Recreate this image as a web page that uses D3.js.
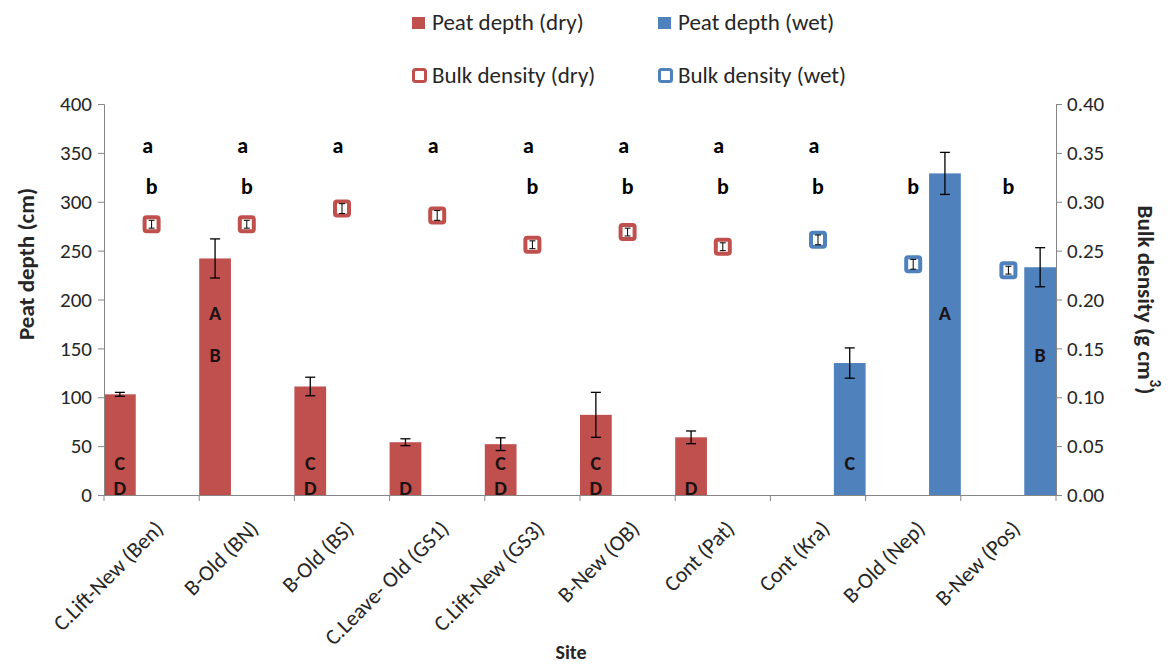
<!DOCTYPE html>
<html><head><meta charset="utf-8">
<script src="https://cdn.jsdelivr.net/npm/d3@7"></script>
<style>
body{margin:0;background:#fff;}
text{font-family:Carlito,Calibri,Lato,sans-serif;}
</style></head>
<body><svg id="chart" width="1172" height="666"></svg>
<script>
const categories = ["C.Lift-New (Ben)","B-Old (BN)","B-Old (BS)","C.Leave- Old (GS1)","C.Lift-New (GS3)","B-New (OB)","Cont (Pat)","Cont (Kra)","B-Old (Nep)","B-New (Pos)"];
const condition = ["dry","dry","dry","dry","dry","dry","dry","wet","wet","wet"];
const peatDepth = [103,242,111,54,52,82,59,135,329,233];
const peatDepthErr = [2,20,9.5,3.5,6.5,23,6.5,15.5,21.5,20];
const bulkDensity = [0.277,0.277,0.293,0.286,0.256,0.269,0.254,0.261,0.236,0.230];
const bulkDensityErr = [0.004,0.004,0.005,0.005,0.004,0.004,0.004,0.005,0.005,0.004];
const lettersA = ["a","a","a","a","a","a","a","a","",""];
const lettersB = ["b","b","","","b","b","b","b","b","b"];
const upperLetters = ["CD","AB","CD","D","CD","CD","D","C","A","B"];
const upperLevels = {A:186,B:143,C:33,D:7};
const leftTicks = [0,50,100,150,200,250,300,350,400];
const rightTicks = [0,0.05,0.10,0.15,0.20,0.25,0.30,0.35,0.40];

const colors = {dry:"#C0504D", wet:"#4F81BD"};
const textColor = "#262626";
const svg = d3.select("#chart");
const L=104,R=1056,T=104,B=495;
const x = d3.scaleBand().domain(categories).range([L,R]).padding(0);
const y = d3.scaleLinear().domain([0,400]).range([B,T]);
const y2 = d3.scaleLinear().domain([0,0.4]).range([B,T]);
const slot = x.bandwidth()/3;
const axisColor = "#868686";

const data = categories.map((c,i)=>({c,cond:condition[i],v:peatDepth[i],e:peatDepthErr[i],bd:bulkDensity[i],bde:bulkDensityErr[i],i}));
const barX = d=> x(d.c) + (d.cond==="dry"?0:2*slot);
svg.append("g").selectAll("rect").data(data).join("rect")
  .attr("x",barX).attr("width",slot)
  .attr("y",d=>y(d.v)).attr("height",d=>B-y(d.v))
  .attr("fill",d=>colors[d.cond]);

// axes
const gl = svg.append("g").attr("transform",`translate(${L},0)`)
  .call(d3.axisLeft(y).tickValues(leftTicks).tickSize(6).tickPadding(6));
const gr = svg.append("g").attr("transform",`translate(${R},0)`)
  .call(d3.axisRight(y2).tickValues(rightTicks).tickFormat(d3.format(".2f")).tickSize(6).tickPadding(5));
const gx = svg.append("g").attr("transform",`translate(0,${B})`)
  .call(d3.axisBottom(x).tickValues([]).tickSizeOuter(0));
[gl,gr,gx].forEach(g=>{
  g.select(".domain").attr("stroke",axisColor);
  g.selectAll(".tick line").attr("stroke",axisColor);
  g.selectAll("text").attr("fill",textColor).style("font-size","21px").style("font-family","Carlito,Calibri,Lato,sans-serif");
});
gx.select(".domain").attr("d",`M${L},0.5H${R}`);
const bounds = categories.map(c=>x(c)).concat([R]);
svg.append("g").selectAll("line").data(bounds).join("line")
  .attr("x1",d=>d).attr("x2",d=>d).attr("y1",B).attr("y2",B+6).attr("stroke",axisColor);

// x labels
svg.append("g").selectAll("text").data(categories).join("text")
  .attr("transform",d=>`translate(${x(d)+x.bandwidth()/2+13},${B+35}) rotate(-45)`)
  .attr("text-anchor","end")
  .style("font-size","22px").attr("fill",textColor).text(d=>d);

// error bars on bars
const eb = svg.append("g").attr("stroke","#000").attr("stroke-width",1.3);
data.forEach(d=>{
  const cx = barX(d)+slot/2;
  eb.append("line").attr("x1",cx).attr("x2",cx).attr("y1",y(d.v+d.e)).attr("y2",y(d.v-d.e));
  eb.append("line").attr("x1",cx-5).attr("x2",cx+5).attr("y1",y(d.v+d.e)).attr("y2",y(d.v+d.e));
  eb.append("line").attr("x1",cx-5).attr("x2",cx+5).attr("y1",y(d.v-d.e)).attr("y2",y(d.v-d.e));
});

// bulk density markers
const mk = svg.append("g");
data.forEach(d=>{
  const cx = x(d.c)+x.bandwidth()/2, cy=y2(d.bd);
  mk.append("rect").attr("x",cx-7).attr("y",cy-7).attr("width",14).attr("height",14).attr("rx",2)
    .attr("fill","#fff").attr("stroke",colors[d.cond]).attr("stroke-width",4);
  const t=y2(d.bd+d.bde), b=y2(d.bd-d.bde);
  mk.append("line").attr("x1",cx).attr("x2",cx).attr("y1",t).attr("y2",b).attr("stroke","#000");
  mk.append("line").attr("x1",cx-3).attr("x2",cx+3).attr("y1",t).attr("y2",t).attr("stroke","#000");
  mk.append("line").attr("x1",cx-3).attr("x2",cx+3).attr("y1",b).attr("y2",b).attr("stroke","#000");
});

// significance letters
const lg = svg.append("g").style("font-weight","bold").attr("fill","#000")
  .attr("text-anchor","middle").attr("dominant-baseline","central");
categories.forEach((c,i)=>{
  const cx = x(c)+x.bandwidth()/2;
  if(lettersA[i]) lg.append("text").attr("x",cx-4).attr("y",y2(0.358)).style("font-size","22px").text(lettersA[i]);
  if(lettersB[i]) lg.append("text").attr("x",cx).attr("y",y2(0.316)).style("font-size","22px").text(lettersB[i]);
  const bx = barX(data[i])+slot/2;
  upperLetters[i].split("").forEach(ch=>{
    lg.append("text").attr("x",bx).attr("y",y(upperLevels[ch])).style("font-size","20px").attr("fill","#1a1111").text(ch);
  });
});

// axis titles
svg.append("text").attr("transform",`translate(26,264) rotate(-90)`).attr("text-anchor","middle")
  .attr("dominant-baseline","central").style("font-size","23px").style("font-weight","bold").attr("fill",textColor).text("Peat depth (cm)");
const rt = svg.append("text").attr("transform",`translate(1146,300) rotate(90)`).attr("text-anchor","middle")
  .attr("dominant-baseline","central").style("font-size","23px").style("font-weight","bold").attr("fill",textColor);
rt.append("tspan").text("Bulk density (g cm");
rt.append("tspan").attr("baseline-shift","super").style("font-size","15px").text("3");
rt.append("tspan").text(")");
svg.append("text").attr("x",571).attr("y",652).attr("text-anchor","middle").attr("dominant-baseline","central")
  .style("font-size","20px").style("font-weight","bold").attr("fill",textColor).text("Site");

// legend
const legendItems = [
  {label:"Peat depth (dry)", cond:"dry", type:"bar", x:412, y:30},
  {label:"Peat depth (wet)", cond:"wet", type:"bar", x:658, y:30},
  {label:"Bulk density (dry)", cond:"dry", type:"marker", x:412, y:83},
  {label:"Bulk density (wet)", cond:"wet", type:"marker", x:658, y:83}
];
const leg = svg.append("g");
legendItems.forEach(it=>{
  if(it.type==="bar"){
    leg.append("rect").attr("x",it.x).attr("y",it.y-13).attr("width",13).attr("height",12).attr("fill",colors[it.cond]);
  } else {
    leg.append("rect").attr("x",it.x+1.5).attr("y",it.y-13.5).attr("width",12).attr("height",12).attr("rx",2)
      .attr("fill","#fff").attr("stroke",colors[it.cond]).attr("stroke-width",3);
  }
  leg.append("text").attr("x",it.x+20).attr("y",it.y).style("font-size","23px").attr("fill",textColor).text(it.label);
});
</script></body></html>
